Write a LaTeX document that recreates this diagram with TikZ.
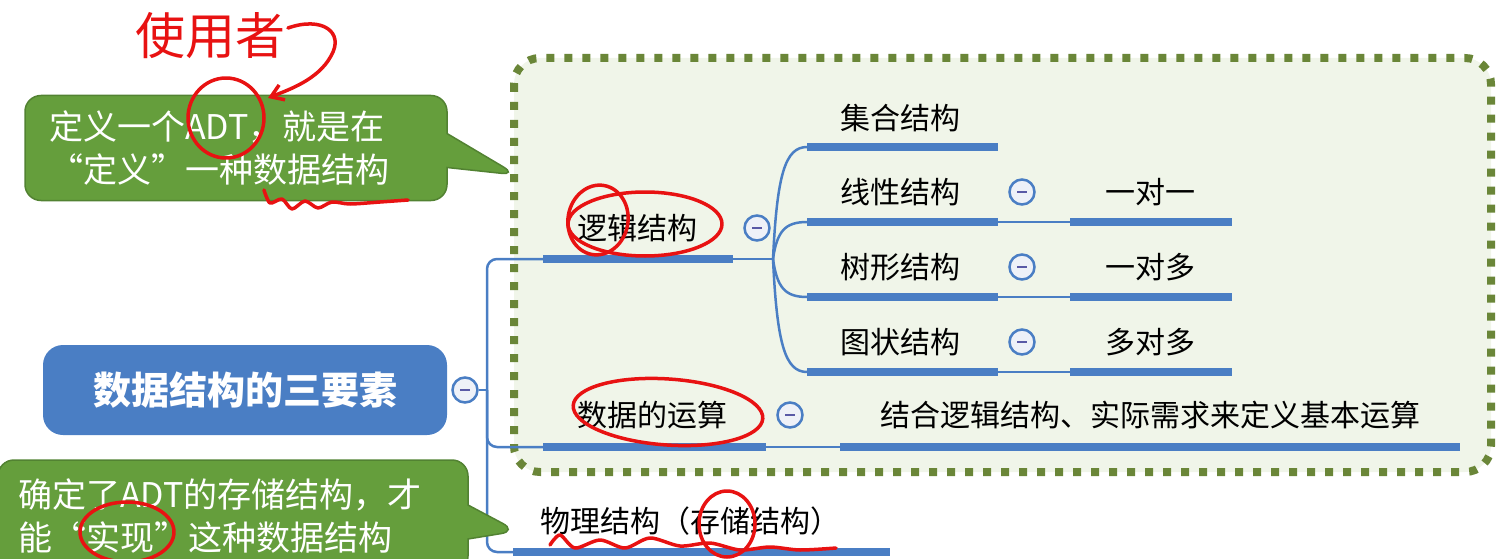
\documentclass[tikz,border=0pt]{standalone}
\usepackage{fontspec}
\setmainfont{Noto Sans CJK SC}
\usetikzlibrary{arrows.meta,shapes.callouts,positioning}

\definecolor{mapblue}{RGB}{74,126,196}
\definecolor{notegreen}{RGB}{101,158,60}
\definecolor{noteedge}{RGB}{82,130,50}
\definecolor{frameolive}{RGB}{106,134,56}
\definecolor{framefill}{RGB}{240,245,233}
\definecolor{foldfill}{RGB}{238,241,248}
\definecolor{inkred}{RGB}{232,18,18}

\tikzset{
  topic/.style={font=\fontsize{30}{36}\selectfont, text=black, inner sep=0},
  root/.style={rounded corners=20, fill=mapblue, text=white, minimum width=404, minimum height=90, font=\fontsize{38}{44}\selectfont\bfseries},
  bar/.style={fill=mapblue, inner sep=0, minimum height=8, anchor=west},
  link/.style={draw=mapblue, line width=2.5},
  fold/.style={circle, draw=mapblue, fill=foldfill, line width=2.5, minimum size=25, inner sep=0,
    path picture={\draw[gray!70!blue, line width=2.5] ([xshift=-5]path picture bounding box.center) -- ([xshift=5]path picture bounding box.center);}},
  note/.style={rectangle callout, rounded corners=16, fill=notegreen, draw=noteedge, line width=1.5, text=white, align=left, font=\fontsize{34}{43}\selectfont, callout pointer width=34},
  ink/.style={draw=inkred, line width=3.5, line cap=round, line join=round},
}

\begin{document}
\begin{tikzpicture}[x=1pt, y=-1pt]
  \useasboundingbox (0,0) rectangle (1507,559);

  % Dotted frame round the abstract part
  \draw[frameolive, fill=framefill, line width=8, dash pattern=on 8pt off 10pt, rounded corners=26] (514,58) rectangle (1491,472);

  % Root
  \node[root] (root) at (245,390) {数据结构的三要素};
  \node[fold] (rootfold) at (465,390) {};
  \coordinate (trunk) at (487,390);

  % Logical structure
  \node[bar, minimum width=190] (logicbar) at (543,259) {};
  \node[topic] (logic) at (637,228) {逻辑结构};
  \node[fold] (logicfold) at (757,228) {};
  \coordinate (logicfork) at (773,259);

  \node[bar, minimum width=191] (setbar) at (807,147) {};
  \node[topic] (set) at (900,118) {集合结构};
  \foreach \name/\y/\kind/\rel in {line/222/线性结构/一对一, tree/297/树形结构/一对多, graph/372/图状结构/多对多} {
    \node[bar, minimum width=191] (\name bar) at (807,\y) {};
    \node[topic] (\name) at (900,\y-30) {\kind};
    \node[fold] (\name fold) at (1022,\y-30) {};
    \node[bar, minimum width=162] (\name relbar) at (1070,\y) {};
    \node[topic] (\name rel) at (1150,\y-30) {\rel};
    \draw[link] (\name bar.east) -- (\name relbar.west);
  }

  % Operations
  \node[bar, minimum width=223] (opbar) at (543,447) {};
  \node[topic] (op) at (652,415) {数据的运算};
  \node[fold] (opfold) at (790,415) {};
  \node[bar, minimum width=620] (descbar) at (840,447) {};
  \node[topic] (desc) at (1150,415) {结合逻辑结构、实际需求来定义基本运算};

  % Physical structure
  \node[bar, minimum width=377] (physbar) at (513,552) {};
  \node[topic] (phys) at (690,521) {物理结构（存储结构）};

  % Connectors
  \draw[link] (rootfold) -- (trunk);
  \draw[link, rounded corners=10] (logicbar.west) -| (trunk) |- (physbar.west);
  \draw[link, rounded corners=10] (trunk) |- (opbar.west);
  \draw[link] (logicbar.east) -- (logicfork);
  \foreach \c/\dy in {setbar/-112, linebar/-37, treebar/38, graphbar/113}
    \draw[link] (logicfork) .. controls +(4,{0.75*\dy}) and +(-22,0) .. (\c.west);
  \draw[link] (opbar.east) -- (descbar.west);

  % Notes
  \node[note, minimum width=422, minimum height=105, text width=374, callout absolute pointer={(517,175)}] (adtnote) at (236,148) {定义一个ADT，就是在\\“定义”一种数据结构};
  \node[note, minimum width=470, minimum height=112, text width=430, callout absolute pointer={(517,531)}] (storenote) at (233,516) {确定了ADT的存储结构，才\\能“实现”这种数据结构};

  % Red handwriting
  \node[text=inkred, font=\fontsize{50}{50}\selectfont] (user) at (210,36) {使用者};
  \draw[ink, -{Straight Barb[length=12pt, width=16pt]}] (288,28) .. controls (322,16) and (345,32) .. (331,56) .. controls (318,80) and (288,90) .. (268,98);
  \draw[ink] (226,118) ellipse (38 and 40);
  \draw[ink] plot[smooth] coordinates {(264,190) (270,203) (282,199) (292,209) (305,201) (318,208) (332,202) (350,204) (380,202) (408,200)};
  \draw[ink] (645,224) ellipse (77 and 32);
  \draw[ink, rotate around={-10:(598,220)}] (598,220) ellipse (30 and 35);
  \draw[ink, rotate around={-4:(668,412)}] (668,412) ellipse (95 and 33);
  \draw[ink] plot[smooth] coordinates {(550,545) (560,535) (575,548) (600,540) (625,548) (650,538) (680,546) (710,543) (740,550) (770,547) (800,550) (836,548)};
  \draw[ink] (727,524) ellipse (28 and 33);
  \draw[ink] (127,532) ellipse (47 and 30);
\end{tikzpicture}
\end{document}
